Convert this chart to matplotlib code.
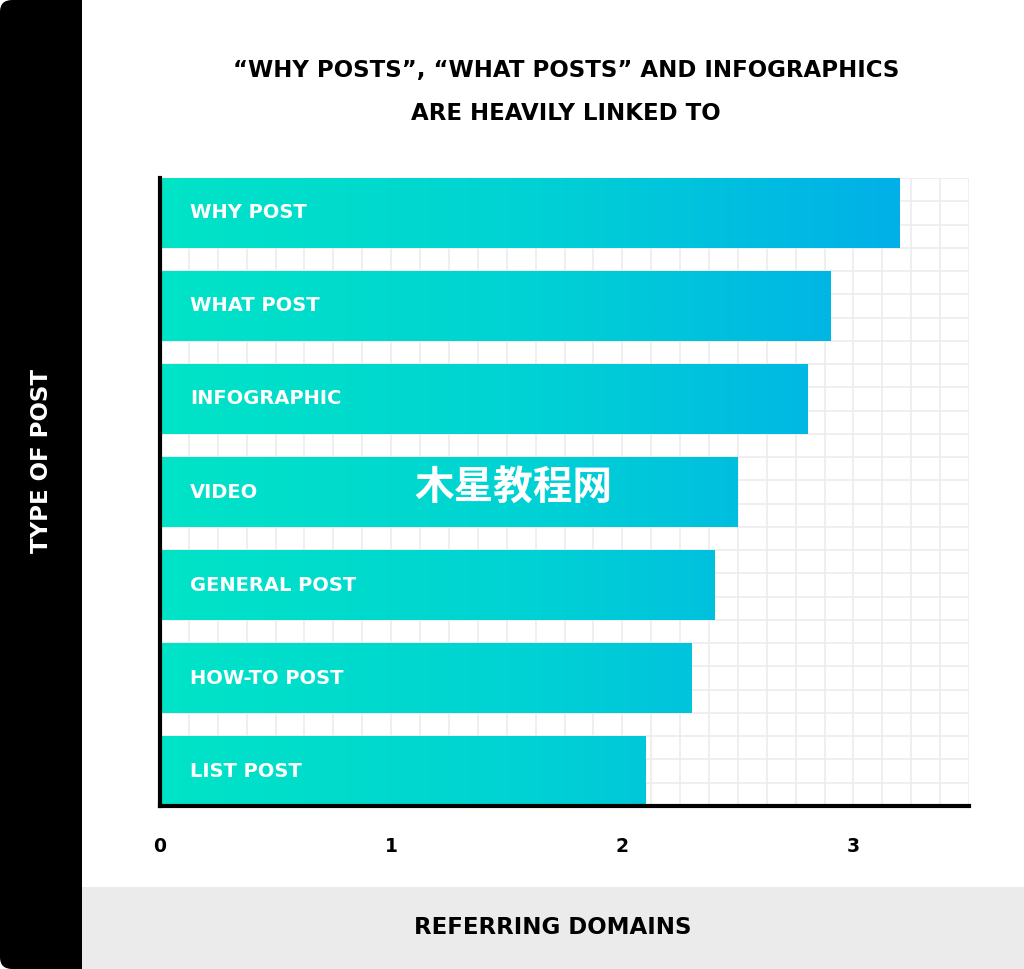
import matplotlib.pyplot as plt
import numpy as np
from matplotlib.colors import LinearSegmentedColormap
from matplotlib.patches import FancyBboxPatch, Rectangle

# data
categories = ["WHY POST", "WHAT POST", "INFOGRAPHIC", "VIDEO",
              "GENERAL POST", "HOW-TO POST", "LIST POST"]
values = [3.2, 2.9, 2.8, 2.5, 2.4, 2.3, 2.1]
x_ticks = [0, 1, 2, 3]
title = "“WHY POSTS”, “WHAT POSTS” AND INFOGRAPHICS\nARE HEAVILY LINKED TO"

W, H = 1024, 969
fig = plt.figure(figsize=(W / 100, H / 100), dpi=100)
fig.patch.set_facecolor("white")

# background bands
fig.patches.append(Rectangle((82 / W, 0), 1 - 82 / W, 82 / H, transform=fig.transFigure,
                             facecolor="#ebebeb", edgecolor="none", zorder=0))
fig.patches.append(FancyBboxPatch((0, 0), 82 / W, 1, boxstyle="round,pad=0,rounding_size=0.012",
                                  transform=fig.transFigure, facecolor="black",
                                  edgecolor="none", zorder=1))
fig.patches.append(Rectangle((40 / W, 0), 42 / W, 1, transform=fig.transFigure,
                             facecolor="black", edgecolor="none", zorder=1))

ax = fig.add_axes([160 / W, 1 - 806 / H, (969 - 160) / W, (806 - 178) / H])
n = len(categories)
ymax = n * 4 - 1
centers = [ymax - 1.5 - 4 * i for i in range(n)]

cmap = LinearSegmentedColormap.from_list("bar", ["#00e4c6", "#00d2d4", "#00b0e8"])
grad = np.linspace(0, 1, 256).reshape(1, -1)

bars = ax.barh(centers, values, height=3, color="none", edgecolor="none", zorder=2)
for bar, label in zip(bars, categories):
    im = ax.imshow(grad, extent=[0, 3.2, 0, ymax], aspect="auto", cmap=cmap,
                   origin="lower", zorder=2, interpolation="bilinear")
    im.set_clip_path(bar)
    ax.text(0.13, bar.get_y() + bar.get_height() / 2, label, color="white",
            fontsize=14, fontweight="bold", va="center", ha="left", zorder=3)

ax.set_xlim(0, 3.5)
ax.set_ylim(0, ymax)
ax.set_xticks(x_ticks)
ax.set_xticks(np.arange(0, 3.5001, 0.125), minor=True)
ax.set_yticks(np.arange(0, ymax + 1, 1))
ax.set_yticklabels([])
ax.grid(True, which="both", color="#ececec", linewidth=1.2, zorder=0)
ax.set_axisbelow(True)
ax.tick_params(axis="both", which="both", length=0)
ax.tick_params(axis="x", pad=22, labelsize=13.5)
for t in ax.get_xticklabels():
    t.set_fontweight("bold")
for s in ["top", "right"]:
    ax.spines[s].set_visible(False)
for s in ["left", "bottom"]:
    ax.spines[s].set_linewidth(3)
    ax.spines[s].set_color("black")
    ax.spines[s].set_zorder(4)

fig.text(566 / W, 1 - 92 / H, title, ha="center", va="center", fontsize=16.5,
         fontweight="bold", linespacing=2.15)
fig.text(42 / W, 1 - 461 / H, "TYPE OF POST", rotation=90, ha="center", va="center",
         color="white", fontsize=16.5, fontweight="bold")
fig.text(553 / W, 1 - 927 / H, "REFERRING DOMAINS", ha="center", va="center",
         fontsize=16.5, fontweight="bold")

# watermark
fig.text(513 / W, 1 - 487 / H, "木星教程网", ha="center", va="center", color="white",
         fontsize=28.5, fontweight="bold", family=["Noto Sans CJK SC", "DejaVu Sans"], zorder=5)

fig.savefig("out.png", dpi=100)
